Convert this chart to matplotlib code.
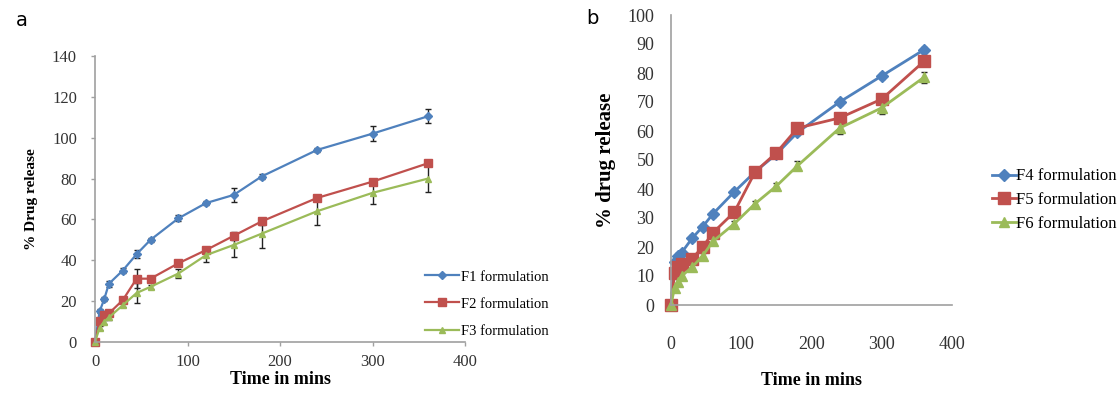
#! /usr/bin/env python3

import numpy as np
import matplotlib.pyplot as plt

plt.rcParams['font.family'] = ['Liberation Serif', 'DejaVu Serif']

# sampling times (min)
t = [0, 5, 10, 15, 30, 45, 60, 90, 120, 150, 180, 240, 300, 360]

# panel a
f1 = [0, 15, 21, 28.5, 35, 43, 50, 60.5, 68, 72, 81, 94, 102, 110.5]
f1_err = [0, 1, 1, 1.5, 1, 2, 1, 1.5, 1, 3.5, 1, 1, 3.5, 3.5]
f2 = [0, 10.5, 13, 14, 20.5, 31, 31, 38.5, 45, 52, 59, 70.5, 78.5, 87.5]
f2_err = [0, 1, 1, 1, 1, 4.5, 1, 1, 1, 2, 1.5, 1.5, 1.5, 1.5]
f3 = [0, 7, 10, 12, 18, 24, 27, 33.5, 42.5, 47.5, 53, 64, 73, 80]
f3_err = [0, 1, 1, 1, 1, 5, 1, 2, 3.5, 6, 7, 6.5, 5.5, 6.5]
labels_a = ['F1 formulation', 'F2 formulation', 'F3 formulation']

# panel b
f4 = [0, 15, 17, 18, 23, 27, 31.5, 39, 46, 52, 59.5, 70, 79, 88]
f4_err = [0, 1, 1, 1, 1, 1, 1, 1, 1, 1, 1, 1, 1, 1]
f5 = [0, 11, 13, 14, 16, 20, 25, 32, 46, 52.5, 61, 64.5, 71, 84]
f5_err = [0, 1, 1, 1, 1, 1, 1, 1, 1, 1, 1, 1, 1, 1.5]
f6 = [0, 6, 8, 10, 13, 17, 22, 28, 35, 41, 48, 61, 68, 78.5]
f6_err = [0, 1, 1, 1, 1, 1, 1, 1, 1, 1, 1.5, 2, 2, 2]
labels_b = ['F4 formulation', 'F5 formulation', 'F6 formulation']

blue = '#4f81bd'
red = '#c0504d'
green = '#9bbb59'
grey = '#a0a0a0'

fig = plt.figure(figsize=(11.19, 3.99), dpi=100)

def style(ax, tsize):
    for s in ['top', 'right']:
        ax.spines[s].set_visible(False)
    for s in ['left', 'bottom']:
        ax.spines[s].set_color(grey)
        ax.spines[s].set_linewidth(1.2)
    ax.tick_params(colors=grey, labelcolor='#333333', labelsize=tsize,
                   length=3, width=1)

def series(ax, y, err, color, marker, ms, lw):
    c = ax.errorbar(t, y, yerr=err, color=color, marker=marker, ms=ms, lw=lw,
                    ecolor='#222222', elinewidth=1, capsize=2.5)
    for a in c.get_children():
        a.set_clip_on(False)
    return c.lines[0]

# ---- a ----
ax1 = fig.add_axes([95 / 1119, 1 - 342 / 399, 370 / 1119, 286 / 399])
h1 = [series(ax1, f1, f1_err, blue, 'D', 4, 1.6),
      series(ax1, f2, f2_err, red, 's', 6, 1.6),
      series(ax1, f3, f3_err, green, '^', 5, 1.6)]
ax1.set_xlim(0, 400)
ax1.set_ylim(0, 140)
ax1.set_xticks(np.arange(0, 401, 100))
ax1.set_yticks(np.arange(0, 141, 20))
style(ax1, 12)
ax1.tick_params(axis='x', pad=6)
ax1.tick_params(axis='y', pad=10)
ax1.set_xlabel('Time in mins', fontsize=13, fontweight='bold', labelpad=0)
ax1.set_ylabel('% Drug release', fontsize=11, fontweight='bold', labelpad=10)
ax1.legend(h1, labels_a, loc='center left', bbox_to_anchor=(418 / 1119, 1 - 304 / 399),
           bbox_transform=fig.transFigure, frameon=False, fontsize=10.5,
           handlelength=2.3, handletextpad=0.15, labelspacing=0.95, borderpad=0)

# ---- b ----
ax2 = fig.add_axes([671 / 1119, 1 - 305 / 399, 281 / 1119, 290 / 399])
h2 = [series(ax2, f4, f4_err, blue, 'D', 6, 2),
      series(ax2, f5, f5_err, red, 's', 8, 2),
      series(ax2, f6, f6_err, green, '^', 7, 2)]
ax2.set_xlim(0, 400)
ax2.set_ylim(0, 100)
ax2.set_xticks(np.arange(0, 401, 100))
ax2.set_yticks(np.arange(0, 101, 10))
style(ax2, 13)
ax2.tick_params(axis='x', length=0, pad=22)
ax2.tick_params(axis='y', length=0, pad=12)
ax2.set_xlabel('Time in mins', fontsize=13, fontweight='bold', labelpad=14)
ax2.set_ylabel('% drug release', fontsize=15, fontweight='bold', labelpad=8)
ax2.legend(h2, labels_b, loc='center left', bbox_to_anchor=(984 / 1119, 1 - 200 / 399),
           bbox_transform=fig.transFigure, frameon=False, fontsize=12,
           handlelength=1.4, handletextpad=0.05, labelspacing=0.45, borderpad=0)

fig.text(22 / 1119, 1 - 20 / 399, 'a', fontsize=14, family='DejaVu Sans',
         ha='center', va='center')
fig.text(592 / 1119, 1 - 18 / 399, 'b', fontsize=14, family='DejaVu Sans',
         ha='center', va='center')

fig.savefig('out.png', dpi=100)
